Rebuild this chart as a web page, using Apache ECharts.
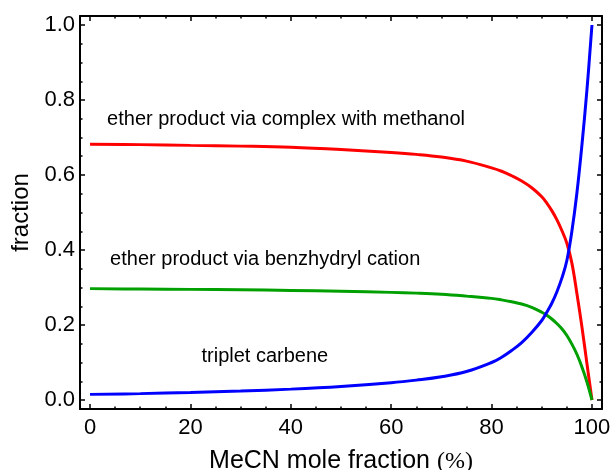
<!DOCTYPE html>
<html>
<head>
<meta charset="utf-8">
<script src="https://cdn.jsdelivr.net/npm/echarts@6/dist/echarts.min.js"></script>
<style>
  html, body { margin: 0; padding: 0; background: #fff; }
  #chart { width: 612px; height: 470px; }
</style>
</head>
<body>
<div id="chart"></div>
<script>
// MeCN mole fraction (%) at which each curve is sampled
const mecn = [0, 10, 20, 30, 40, 50, 60, 65, 70, 75, 80, 82, 84, 86, 88, 90, 91, 92, 93, 94, 95, 96, 97, 98, 99, 100];

// product fractions
const etherViaComplex = [0.682, 0.681, 0.679, 0.677, 0.674, 0.668, 0.660, 0.655, 0.648, 0.637, 0.619, 0.610, 0.598, 0.584, 0.566, 0.542, 0.525, 0.505, 0.481, 0.452, 0.418, 0.365, 0.284, 0.195, 0.097, 0.0];
const etherViaCation  = [0.297, 0.296, 0.295, 0.294, 0.292, 0.290, 0.287, 0.285, 0.282, 0.277, 0.271, 0.267, 0.262, 0.256, 0.247, 0.234, 0.226, 0.216, 0.204, 0.190, 0.172, 0.149, 0.122, 0.088, 0.048, 0.0];
const tripletCarbene  = [0.015, 0.017, 0.020, 0.024, 0.029, 0.036, 0.046, 0.053, 0.062, 0.076, 0.100, 0.114, 0.132, 0.153, 0.180, 0.212, 0.234, 0.258, 0.288, 0.325, 0.372, 0.450, 0.552, 0.680, 0.827, 1.0];

// tick positions
const xMajorTicks = [0, 20, 40, 60, 80, 100];
const xMinorTicks = [0, 5, 10, 15, 20, 25, 30, 35, 40, 45, 50, 55, 60, 65, 70, 75, 80, 85, 90, 95, 100];
const yMajorTicks = [0, 0.2, 0.4, 0.6, 0.8, 1.0];
const yMinorTicks = [0, 0.05, 0.1, 0.15, 0.2, 0.25, 0.3, 0.35, 0.4, 0.45, 0.5, 0.55, 0.6, 0.65, 0.7, 0.75, 0.8, 0.85, 0.9, 0.95, 1.0];

// curve captions
const captions = [
  { text: 'ether product via complex with methanol', at: [3.4, 0.747] },
  { text: 'ether product via benzhydryl cation', at: [4.0, 0.376] },
  { text: 'triplet carbene', at: [22.2, 0.117] }
];

const FONT = '"Liberation Sans", Arial, sans-serif';
const SERIF = '"Liberation Serif", "Times New Roman", serif';
const X_RANGE = { min: -2, max: 102 };
const Y_RANGE = { min: -0.024, max: 1.024 };

function frameAxis(base, position, ticks, len, showLine) {
  return Object.assign({
    type: 'value',
    position: position,
    axisLine: { show: showLine, onZero: false, lineStyle: { color: '#000', width: 2 } },
    axisTick: { show: true, inside: true, length: len, customValues: ticks,
                lineStyle: { color: '#000', width: 1.5 } },
    axisLabel: { show: false, customValues: ticks },
    splitLine: { show: false }
  }, base);
}

const chart = echarts.init(document.getElementById('chart'), null, { renderer: 'canvas' });

const xMain = frameAxis(X_RANGE, 'bottom', xMajorTicks, 5, true);
xMain.axisLabel = { show: true, customValues: xMajorTicks, fontSize: 22, color: '#000',
                    fontFamily: FONT, margin: 8 };
xMain.name = 'MeCN mole fraction {p|(%)}';
xMain.nameLocation = 'middle';
xMain.nameGap = 40;
xMain.nameTextStyle = { fontSize: 25, color: '#000', fontFamily: FONT,
  rich: { p: { fontSize: 24, color: '#000', fontFamily: SERIF } } };

const yMain = frameAxis(Y_RANGE, 'left', yMajorTicks, 5, true);
yMain.axisLabel = { show: true, customValues: yMajorTicks, fontSize: 22, color: '#000',
                    fontFamily: FONT, margin: 5, formatter: v => v.toFixed(1) };
yMain.name = 'fraction';
yMain.nameLocation = 'middle';
yMain.nameRotate = 90;
yMain.nameGap = 47;
yMain.nameTextStyle = { fontSize: 24, color: '#000', fontFamily: FONT };

function curve(name, values, color) {
  return {
    name: name,
    type: 'line',
    xAxisIndex: 0,
    yAxisIndex: 0,
    data: mecn.map((x, i) => [x, values[i]]),
    showSymbol: false,
    smooth: 0.4,
    lineStyle: { color: color, width: 3 },
    itemStyle: { color: color },
    z: 3
  };
}

chart.setOption({
  animation: false,
  backgroundColor: '#fff',
  grid: { left: 80, right: 10, top: 16, bottom: 61, containLabel: false, outerBoundsMode: 'none' },
  xAxis: [
    xMain,
    frameAxis(X_RANGE, 'bottom', xMinorTicks, 2.5, false),
    frameAxis(X_RANGE, 'top', xMajorTicks, 5, true),
    frameAxis(X_RANGE, 'top', xMinorTicks, 2.5, false)
  ],
  yAxis: [
    yMain,
    frameAxis(Y_RANGE, 'left', yMinorTicks, 2.5, false),
    frameAxis(Y_RANGE, 'right', yMajorTicks, 5, true),
    frameAxis(Y_RANGE, 'right', yMinorTicks, 2.5, false)
  ],
  series: [
    curve('ether product via complex with methanol', etherViaComplex, '#ff0000'),
    curve('ether product via benzhydryl cation', etherViaCation, '#00a000'),
    curve('triplet carbene', tripletCarbene, '#0000ff')
  ]
});

// captions placed in data coordinates
chart.setOption({
  graphic: captions.map(c => {
    const p = chart.convertToPixel({ xAxisIndex: 0, yAxisIndex: 0 }, c.at);
    return {
      type: 'text',
      x: p[0],
      y: p[1],
      style: { text: c.text, fontSize: 20, fontFamily: FONT, fill: '#000',
               align: 'left', verticalAlign: 'middle' },
      z: 10
    };
  })
});
</script>
</body>
</html>
